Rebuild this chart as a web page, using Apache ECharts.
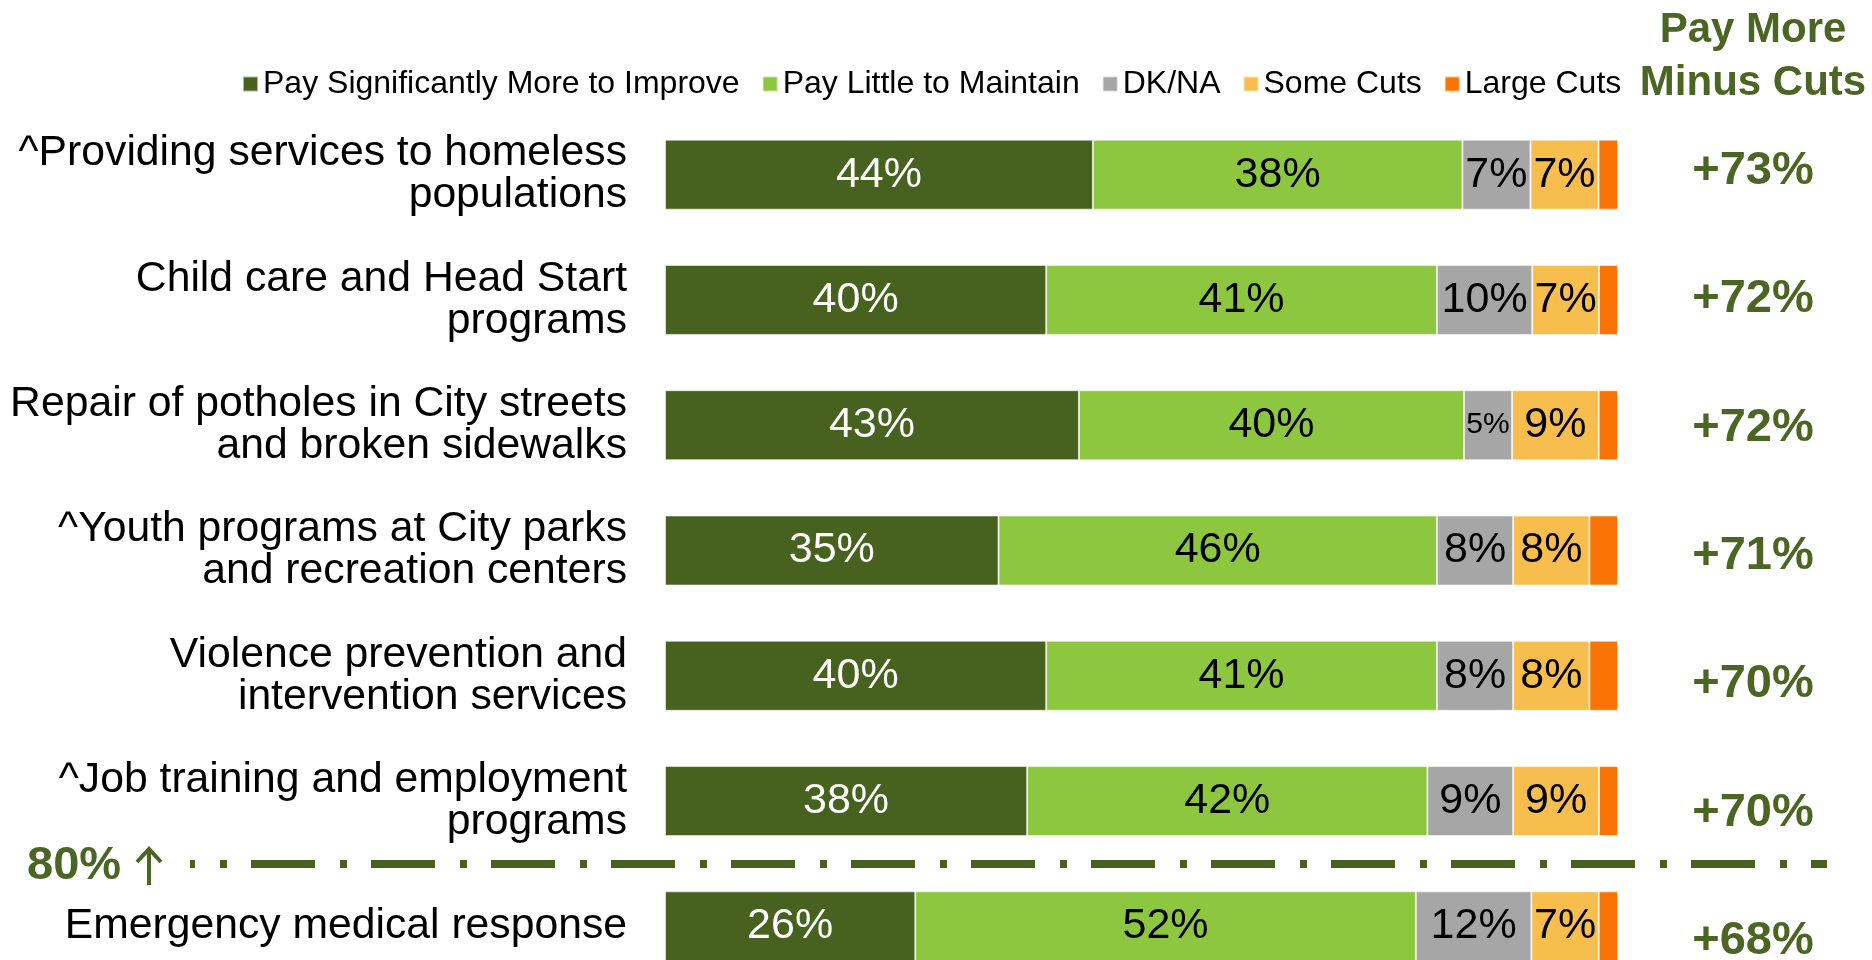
<!DOCTYPE html>
<html>
<head>
<meta charset="utf-8">
<script src="https://cdn.jsdelivr.net/npm/echarts@6/dist/echarts.min.js"></script>
<style>
  html, body { margin: 0; padding: 0; background: #ffffff; }
  #chart { width: 1872px; height: 960px; }
</style>
</head>
<body>
<div id="chart"></div>
<script>
// ---- Data ----
const categories = [
  "^Providing services to homeless\npopulations",
  "Child care and Head Start\nprograms",
  "Repair of potholes in City streets\nand broken sidewalks",
  "^Youth programs at City parks\nand recreation centers",
  "Violence prevention and\nintervention services",
  "^Job training and employment\nprograms",
  "Emergency medical response"
];
const seriesNames = ["Pay Significantly More to Improve", "Pay Little to Maintain", "DK/NA", "Some Cuts", "Large Cuts"];
const paySignificantlyMore = [44, 40, 43, 35, 40, 38, 26];
const payLittleToMaintain  = [38, 41, 40, 46, 41, 42, 52];
const dkNa                 = [7, 10, 5, 8, 8, 9, 12];
const someCuts             = [7, 7, 9, 8, 8, 9, 7];
const largeCuts            = [2, 2, 2, 3, 3, 2, 2];
const netPayMoreMinusCuts  = ["+73%", "+72%", "+72%", "+71%", "+70%", "+70%", "+68%"];
const thresholdLabel = "80%";

// ---- Styles ----
const FONT = "'Liberation Sans', Arial, sans-serif";
const GREEN_TEXT = "#4A6622";
const colors = ["#47621F", "#8DC63F", "#A6A6A6", "#F7BE4E", "#F97404"];
const labelColors = ["#ffffff", "#000000", "#000000", "#000000", null];

const raw = [paySignificantlyMore, payLittleToMaintain, dkNa, someCuts, largeCuts];
const totals = categories.map((_, i) => raw.reduce((s, arr) => s + arr[i], 0));

const series = raw.map((arr, si) => ({
  name: seriesNames[si],
  type: "bar",
  stack: "total",
  xAxisIndex: 0,
  yAxisIndex: 0,
  barWidth: 70,
  itemStyle: { color: colors[si], borderColor: "rgba(255,255,255,0.55)", borderWidth: 1 },
  label: {
    show: si < 4,
    position: "inside",
    color: labelColors[si] || "#000",
    fontFamily: FONT,
    fontSize: 43,
    formatter: (p) => arr[p.dataIndex] + "%"
  },
  data: arr.map((v, i) => ({
    value: v / totals[i] * 100,
    label: v <= 5 ? { fontSize: 30 } : undefined
  }))
}));

const chart = echarts.init(document.getElementById("chart"), null, { renderer: "canvas" });
chart.setOption({
  animation: false,
  backgroundColor: "#ffffff",
  color: colors,
  legend: {
    data: seriesNames,
    left: 237,
    top: 63,
    icon: "rect",
    itemWidth: 15,
    itemHeight: 15,
    itemGap: 22,
    textStyle: { fontFamily: FONT, fontSize: 32, color: "#000" }
  },
  grid: [
    { left: 665, width: 953, top: 112, height: 877, containLabel: false, outerBoundsMode: "none" },
    { left: 1620, width: 133, top: 107, height: 898, containLabel: false, outerBoundsMode: "none" }
  ],
  xAxis: [
    { gridIndex: 0, type: "value", min: 0, max: 100, show: false },
    { gridIndex: 1, type: "value", min: 0, max: 1, show: false }
  ],
  yAxis: [
    {
      gridIndex: 0,
      type: "category",
      data: categories,
      inverse: true,
      axisLine: { show: false },
      axisTick: { show: false },
      splitLine: { show: false },
      axisLabel: {
        margin: 38,
        fontFamily: FONT,
        fontSize: 42.7,
        lineHeight: 42,
        color: "#000",
        align: "right"
      }
    },
    {
      gridIndex: 1,
      type: "category",
      data: netPayMoreMinusCuts,
      inverse: true,
      position: "right",
      axisLine: { show: false },
      axisTick: { show: false },
      splitLine: { show: false },
      axisLabel: {
        margin: 0,
        align: "center",
        fontFamily: FONT,
        fontSize: 47,
        fontWeight: "bold",
        color: GREEN_TEXT
      }
    }
  ],
  graphic: [
    {
      type: "text",
      x: 1753,
      y: 4,
      style: {
        text: "Pay More\nMinus Cuts",
        textAlign: "center",
        fontFamily: FONT,
        fontSize: 42,
        fontWeight: "bold",
        lineHeight: 53,
        fill: GREEN_TEXT
      }
    },
    {
      type: "text",
      x: 27,
      y: 866,
      style: {
        text: thresholdLabel,
        textAlign: "left",
        textVerticalAlign: "middle",
        fontFamily: FONT,
        fontSize: 47,
        fontWeight: "bold",
        fill: GREEN_TEXT
      }
    },
    {
      type: "polyline",
      shape: { points: [[149, 885], [149, 850]] },
      style: { stroke: GREEN_TEXT, lineWidth: 4, fill: null }
    },
    {
      type: "polyline",
      shape: { points: [[137, 862], [149, 849], [161, 862]] },
      style: { stroke: GREEN_TEXT, lineWidth: 4, fill: null, lineJoin: "miter" }
    },
    {
      type: "line",
      shape: { x1: 190, y1: 864, x2: 1827, y2: 864 },
      style: {
        stroke: "#47621F",
        lineWidth: 8,
        lineDash: [7, 24, 64, 25],
        lineDashOffset: 90,
        lineCap: "butt"
      }
    }
  ],
  series: series
});
</script>
</body>
</html>
